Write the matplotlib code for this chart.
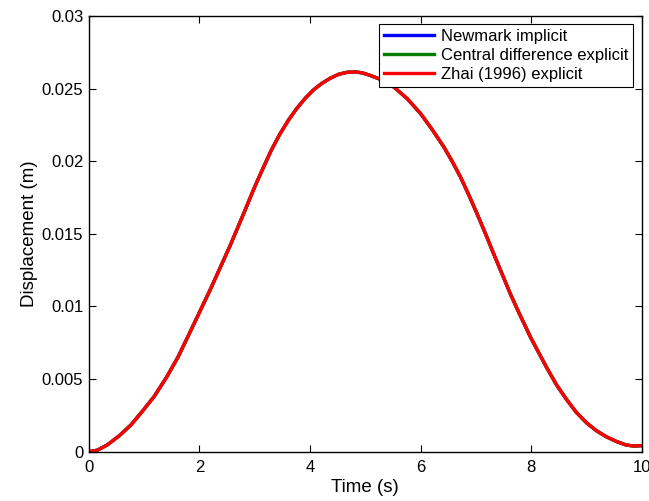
"""Displacement history for three time integration schemes."""

import matplotlib
matplotlib.use("Agg")
from matplotlib import pyplot as plt
from matplotlib.ticker import FuncFormatter

plt.rcParams["font.family"] = ["Liberation Sans", "DejaVu Sans"]

# values (time in s, displacement in m)
time = [0, 0.15, 0.33, 0.55, 0.76, 0.97, 1.18, 1.4, 1.61, 1.8, 2.0, 2.2,
        2.39, 2.55, 2.7, 2.85, 3.0, 3.15, 3.3, 3.45, 3.61, 3.76, 3.91,
        4.06, 4.21, 4.37, 4.52, 4.67, 4.82, 4.95, 5.08, 5.3, 5.52, 5.76,
        6.0, 6.21, 6.42, 6.57, 6.72, 6.87, 7.02, 7.17, 7.32, 7.47, 7.62,
        7.8, 8.0, 8.14, 8.28, 8.46, 8.64, 8.82, 9.0, 9.18, 9.36, 9.54,
        9.72, 9.86, 10]
newmark = [0, 0.0001, 0.00046, 0.0011, 0.00184, 0.0028, 0.0038, 0.0051,
           0.0065, 0.008, 0.0096, 0.0112, 0.0128, 0.01415, 0.0155,
           0.01686, 0.01824, 0.01952, 0.02076, 0.02184, 0.02283, 0.02363,
           0.02432, 0.0249, 0.02535, 0.02572, 0.02599, 0.02612, 0.02615,
           0.02608, 0.02592, 0.0256, 0.0251, 0.0243, 0.02328, 0.02218,
           0.02099, 0.02, 0.01893, 0.0177, 0.0164, 0.01505, 0.01365,
           0.01228, 0.0109, 0.0094, 0.0078, 0.0068, 0.0058, 0.0046,
           0.0036, 0.0027, 0.002, 0.00145, 0.00103, 0.00071, 0.00046,
           0.00039, 0.00042]
central = newmark
zhai = newmark

labels = ["Newmark implicit", "Central difference explicit", "Zhai (1996) explicit"]
colors = ["#0000ff", "#008000", "#ff0000"]

fig = plt.figure(figsize=(6.49, 5.01), dpi=100)
ax = fig.add_axes([0.137, 0.0984, 0.8517, 0.8697])

for series, label, color in zip([newmark, central, zhai], labels, colors):
    ax.plot(time, series, color=color, linewidth=2.4, label=label)

ax.set_xlim(0, 10)
ax.set_ylim(0, 0.03)
ax.set_xticks(range(0, 11, 2))
ax.set_yticks([0, 0.005, 0.01, 0.015, 0.02, 0.025, 0.03])
ax.yaxis.set_major_formatter(FuncFormatter(lambda v, p: "%g" % round(v, 4)))
ax.tick_params(direction="in", top=True, right=True, length=5, labelsize=12)
ax.tick_params(axis="x", pad=6)
ax.tick_params(axis="y", pad=4)
for spine in ax.spines.values():
    spine.set_linewidth(1.0)

ax.set_xlabel("Time (s)", fontsize=13.5, labelpad=3)
ax.set_ylabel("Displacement (m)", fontsize=13.5, labelpad=3)

leg = ax.legend(loc="upper right", fontsize=12, frameon=True, fancybox=False,
                edgecolor="black", framealpha=1, borderaxespad=0.5,
                handlelength=3.0, handletextpad=0.4, labelspacing=0.22,
                borderpad=0.3)
leg.get_frame().set_linewidth(0.8)

fig.savefig("out.png", dpi=100)
